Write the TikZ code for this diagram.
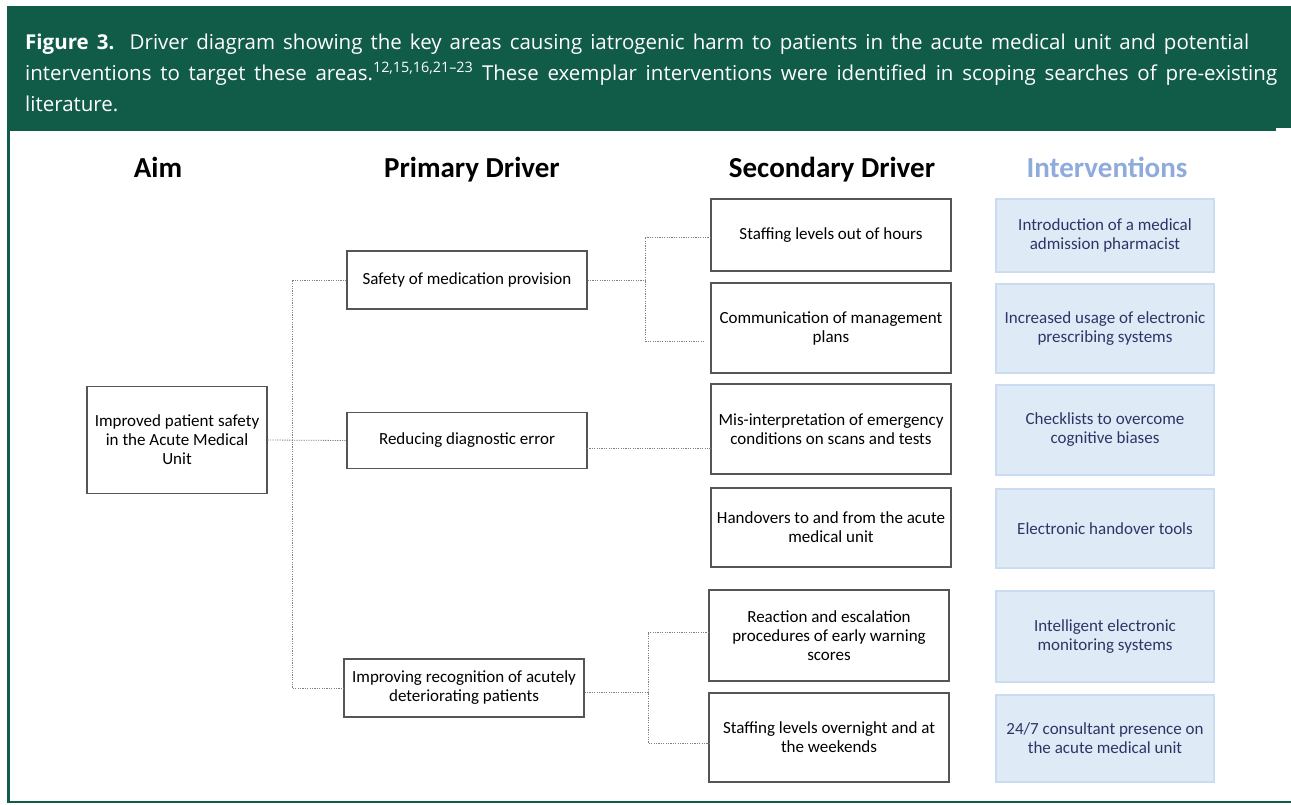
\documentclass[tikz,border=0pt]{standalone}
\usepackage{fontspec}
\setmainfont{Carlito}
\newfontfamily\capfont{Open Sans}
\usetikzlibrary{calc}
\definecolor{jgreen}{HTML}{115C48}
\definecolor{ivfill}{HTML}{DEEAF6}
\definecolor{ivdraw}{HTML}{C9DCF0}
\definecolor{ivtext}{HTML}{2E3566}
\definecolor{ivhead}{HTML}{8FAADC}
\definecolor{boxdraw}{HTML}{555555}
\tikzset{
  dbox/.style={draw=boxdraw, line width=1.2pt, fill=white, align=center, inner sep=2pt, font=\fontsize{17}{19}\selectfont, text=black},
  ibox/.style={draw=ivdraw, line width=1.2pt, fill=ivfill, align=center, inner sep=2pt, font=\fontsize{17}{19}\selectfont, text=ivtext},
  hd/.style={font=\bfseries\fontsize{29}{32}\selectfont, anchor=base},
  conn/.style={draw=gray, line width=0.8pt, dash pattern=on 1.2pt off 1.2pt},
  capline/.style={anchor=base west, inner sep=0pt, text=white, font=\capfont\fontsize{20.5}{31}\selectfont},
}
\begin{document}
\begin{tikzpicture}[x=1pt,y=-1pt]
\useasboundingbox (0,0) rectangle (1291,804);
\fill[white] (0,0) rectangle (1291,804);
% header band
\fill[jgreen] (7,6) rectangle (1291,131);
\fill[white] (1276,128) rectangle (1291,132);
% frame
\fill[jgreen] (7,131) rectangle (9.5,803);
\fill[jgreen] (7,800.5) rectangle (1291,803);
% caption
\node[capline] (cap1) at (25,49) {\makebox[1224pt][s]{\textbf{Figure\hspace{0.4em}3.} Driver diagram showing the key areas causing iatrogenic harm to patients in the acute medical unit and potential}};
\node[capline] (cap2) at (25,80) {\makebox[1252pt][s]{interventions to target these areas.\textsuperscript{12,15,16,21–23} These exemplar interventions were identified in scoping searches of pre-existing}};
\node[capline] (cap3) at (25,111) {literature.};
% headers
\node[hd] (hAim) at (158,177) {Aim};
\node[hd] (hPri) at (472,177) {Primary Driver};
\node[hd] (hSec) at (832,177) {Secondary Driver};
\node[hd, text=ivhead] (hInt) at (1107,177) {Interventions};
% aim
\node[dbox, minimum width=180pt, minimum height=107pt] (aim) at (177,440) {Improved patient safety\\in the Acute Medical\\Unit};
% primary
\node[dbox, minimum width=240pt, minimum height=58pt] (p1) at (467,280) {Safety of medication provision};
\node[dbox, minimum width=240pt, minimum height=56pt] (p2) at (467,440.5) {Reducing diagnostic error};
\node[dbox, minimum width=240pt, minimum height=58pt] (p3) at (464,688) {Improving recognition of acutely\\deteriorating patients};
% secondary
\node[dbox, minimum width=240pt, minimum height=72pt] (s1) at (831,235) {Staffing levels out of hours};
\node[dbox, minimum width=240pt, minimum height=90pt] (s2) at (831,328) {Communication of management\\plans};
\node[dbox, minimum width=240pt, minimum height=90pt] (s3) at (831,429) {Mis-interpretation of emergency\\conditions on scans and tests};
\node[dbox, minimum width=240pt, minimum height=79pt] (s4) at (831,527.5) {Handovers to and from the acute\\medical unit};
\node[dbox, minimum width=240pt, minimum height=91pt] (s5) at (829,635.5) {Reaction and escalation\\procedures of early warning\\scores};
\node[dbox, minimum width=240pt, minimum height=89pt] (s6) at (829,737.5) {Staffing levels overnight and at\\the weekends};
% interventions
\node[ibox, minimum width=218pt, minimum height=73pt] (i1) at (1105,235.5) {Introduction of a medical\\admission pharmacist};
\node[ibox, minimum width=218pt, minimum height=89pt] (i2) at (1105,328.5) {Increased usage of electronic\\prescribing systems};
\node[ibox, minimum width=218pt, minimum height=90pt] (i3) at (1105,430) {Checklists to overcome\\cognitive biases};
\node[ibox, minimum width=218pt, minimum height=79pt] (i4) at (1105,528.5) {Electronic handover tools};
\node[ibox, minimum width=218pt, minimum height=91pt] (i5) at (1105,636.5) {Intelligent electronic\\monitoring systems};
\node[ibox, minimum width=218pt, minimum height=87pt] (i6) at (1105,738.5) {24/7 consultant presence on\\the acute medical unit};
% connectors
\coordinate (spine) at (292,440);
\draw[conn] (aim.east) -- (p2.west);
\draw[conn] (p1.west) -| (spine) |- (p3.west);
\coordinate (j1) at (645,280);
\coordinate (e1) at (711,237);
\coordinate (e2) at (705,341);
\draw[conn] (p1.east) -- (j1);
\draw[conn] (e1) -| (j1) |- (e2);
\coordinate (e3) at (711,448);
\coordinate (b3) at (587,448);
\draw[conn] (b3) -- (e3);
\coordinate (j3) at (648,692);
\coordinate (e5) at (709,632);
\coordinate (e6) at (709,743);
\draw[conn] (p3.east |- j3) -- (j3);
\draw[conn] (e5) -| (j3) |- (e6);
\end{tikzpicture}
\end{document}
